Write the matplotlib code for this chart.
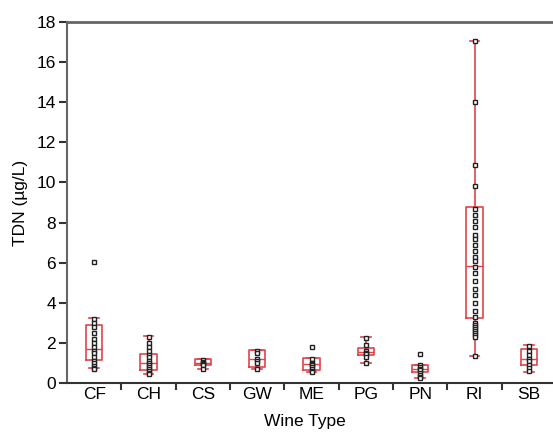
import matplotlib
matplotlib.use("Agg")
import matplotlib.pyplot as plt
import numpy as np

plt.rcParams['font.family'] = ['Liberation Sans', 'DejaVu Sans']

categories = ["CF", "CH", "CS", "GW", "ME", "PG", "PN", "RI", "SB"]

values = {
    "CF": [6.05, 3.2, 3.0, 2.8, 2.5, 2.2, 2.0, 1.8, 1.6, 1.5, 1.3, 1.1, 1.0, 0.85, 0.75, 0.7],
    "CH": [2.3, 2.0, 1.8, 1.6, 1.4, 1.3, 1.1, 1.0, 0.9, 0.8, 0.7, 0.6, 0.5, 0.45],
    "CS": [1.15, 1.05, 1.0, 0.95, 0.9, 0.7],
    "GW": [1.6, 1.5, 1.2, 1.1, 1.0, 0.7],
    "ME": [1.8, 1.2, 1.0, 0.95, 0.9, 0.8, 0.7, 0.6, 0.55],
    "PG": [2.25, 1.9, 1.6, 1.5, 1.45, 1.3, 1.0],
    "PN": [1.45, 0.9, 0.8, 0.7, 0.65, 0.5, 0.4, 0.3, 0.25],
    "RI": [17.05, 14.0, 10.85, 9.8, 8.7, 8.4, 8.1, 7.8, 7.4, 7.2, 6.9, 6.6, 6.3, 6.1,
           5.8, 5.5, 5.1, 4.7, 4.4, 4.0, 3.6, 3.3, 3.0, 2.9, 2.8, 2.7, 2.6, 2.5, 2.4,
           2.3, 1.35],
    "SB": [1.85, 1.6, 1.4, 1.2, 1.1, 0.9, 0.75, 0.6],
}

q1 = [1.15, 0.65, 0.9, 0.8, 0.65, 1.4, 0.55, 3.25, 0.9]
median = [1.7, 1.0, 1.0, 1.2, 0.95, 1.55, 0.7, 5.85, 1.2]
q3 = [2.9, 1.45, 1.2, 1.65, 1.25, 1.75, 0.9, 8.8, 1.7]
whislo = [0.75, 0.45, 0.7, 0.7, 0.55, 1.0, 0.25, 1.35, 0.55]
whishi = [3.25, 2.35, 1.2, 1.65, 1.25, 2.3, 0.9, 17.05, 1.9]

yticks = [0, 2, 4, 6, 8, 10, 12, 14, 16, 18]

W, H = 553, 433
fig = plt.figure(figsize=(W / 100, H / 100), dpi=100)
ax = fig.add_axes([67 / W, (H - 383) / H, (556 - 67) / W, 361 / H])

red = "#e0434c"
stats = []
for i, c in enumerate(categories):
    stats.append(dict(label=c, q1=q1[i], med=median[i], q3=q3[i],
                      whislo=whislo[i], whishi=whishi[i], fliers=[]))
pos = np.arange(len(categories))
ax.bxp(stats, positions=pos, widths=0.3, showfliers=False,
       boxprops=dict(color=red, linewidth=1.2),
       medianprops=dict(color=red, linewidth=1.0),
       whiskerprops=dict(color=red, linewidth=1.2),
       capprops=dict(color=red, linewidth=1.2),
       capwidths=0.18, manage_ticks=False)

for i, c in enumerate(categories):
    v = values[c]
    ax.plot(np.full(len(v), pos[i]), v, linestyle='none', marker='s', markersize=3.5,
            markerfacecolor='white', markeredgecolor='#222222', markeredgewidth=1.0,
            zorder=5)

ax.set_xlim(-0.5, -0.5 + (556 - 67) / 54.5)
ax.set_ylim(0, 18)
ax.set_yticks(yticks)
ax.set_xticks(np.arange(len(categories)) + 0.5)
ax.set_xticklabels([])
ax.set_xticks(pos, minor=True)
ax.set_xticklabels(categories, minor=True)
ax.tick_params(axis='x', which='major', direction='out', length=5, width=1.5, color='#333333')
ax.tick_params(axis='x', which='minor', length=0, labelsize=12.5, pad=3)
ax.tick_params(axis='y', direction='out', length=6, width=1.5, color='#333333', labelsize=12.5, pad=2)

ax.spines['right'].set_visible(False)
ax.spines['top'].set_color('#666666')
ax.spines['top'].set_linewidth(2.0)
ax.spines['left'].set_color('#666666')
ax.spines['left'].set_linewidth(1.5)
ax.spines['bottom'].set_color('#333333')
ax.spines['bottom'].set_linewidth(1.5)

ax.set_xlabel("Wine Type", fontsize=12.5)
ax.set_ylabel("TDN (µg/L)", fontsize=12.5, labelpad=6)
ax.xaxis.set_label_coords((305 - 67) / (556 - 67), -(414 - 383) / 361)

fig.savefig("out.png", dpi=100)
